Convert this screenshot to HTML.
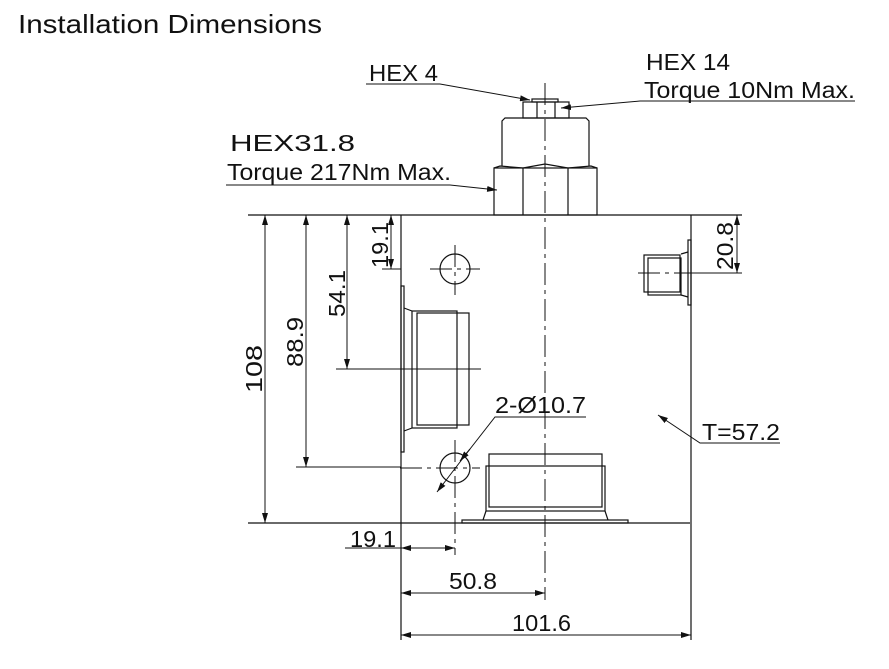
<!DOCTYPE html>
<html><head><style>
html,body{margin:0;padding:0;background:#fff;}
svg{display:block;}
text{font-family:"Liberation Sans",Arial,sans-serif;fill:#111;}
</style></head><body>
<svg width="889" height="669" viewBox="0 0 889 669" xmlns="http://www.w3.org/2000/svg">
<defs>
<marker id="a" viewBox="0 0 10 6" refX="10" refY="3" markerWidth="10" markerHeight="6" orient="auto-start-reverse" markerUnits="userSpaceOnUse"><path d="M0,0 L10,3 L0,6 z" fill="#111"/></marker>
</defs>
<text x="18" y="33" font-size="26" textLength="304" lengthAdjust="spacingAndGlyphs">Installation Dimensions</text>
<g stroke="#111" stroke-width="1.2" fill="none">
<line x1="248" y1="215" x2="742" y2="215"/>
<line x1="248" y1="523" x2="690" y2="523"/>
<line x1="401" y1="215" x2="401" y2="640"/>
<line x1="691" y1="215" x2="691" y2="640"/>
<rect x="494" y="168" width="103" height="47"/>
<line x1="523" y1="168" x2="523" y2="215"/><line x1="568" y1="168" x2="568" y2="215"/>
<path d="M494,168 L500,166 L523,168 L545,164 L568,168 L591,166 L597,168"/>
<path d="M502,166 L502,121 L505,118 L586,118 L589,121 L589,166"/>
<rect x="523" y="102" width="46" height="16"/>
<line x1="537" y1="102" x2="537" y2="118"/><line x1="555" y1="102" x2="555" y2="118"/>
<rect x="532" y="99" width="26" height="3"/>
<rect x="401" y="286" width="3" height="166"/>
<rect x="412" y="311" width="45" height="117"/>
<rect x="417" y="313" width="52" height="112"/>
<line x1="404" y1="308" x2="412" y2="311"/><line x1="404" y1="431" x2="412" y2="428"/>
<rect x="688" y="240" width="3" height="65"/>
<rect x="644" y="255" width="36" height="37"/>
<rect x="648" y="258" width="33" height="37"/>
<line x1="681" y1="254" x2="688" y2="252"/><line x1="681" y1="295" x2="688" y2="297"/>
<rect x="489" y="454" width="113" height="53"/>
<rect x="486" y="466" width="119" height="45"/>
<path d="M486,511 L483,520 M605,511 L608,520"/>
<rect x="462" y="520" width="166" height="3"/>
<circle cx="455" cy="269" r="15"/>
<circle cx="455" cy="468" r="15"/>
</g>
<g stroke="#111" stroke-width="1" stroke-dasharray="22,5,4,5" fill="none">
<line x1="545" y1="83" x2="545" y2="600"/>
<line x1="455" y1="245" x2="455" y2="295"/>
<line x1="430" y1="269" x2="480" y2="269"/>
<line x1="455" y1="440" x2="455" y2="555"/>
<line x1="400" y1="468" x2="480" y2="468"/>
<line x1="638" y1="273" x2="691" y2="273"/>
</g>
<g stroke="#111" stroke-width="1" fill="none">
<line x1="336" y1="369" x2="481" y2="369"/>
<line x1="296" y1="467" x2="401" y2="467"/>
<line x1="382" y1="269" x2="401" y2="269"/>
<line x1="691" y1="273" x2="742" y2="273"/>
<line x1="265" y1="215" x2="265" y2="523" marker-start="url(#a)" marker-end="url(#a)"/>
<line x1="306" y1="215" x2="306" y2="467" marker-start="url(#a)" marker-end="url(#a)"/>
<line x1="347" y1="215" x2="347" y2="369" marker-start="url(#a)" marker-end="url(#a)"/>
<line x1="391" y1="215" x2="391" y2="269" marker-start="url(#a)" marker-end="url(#a)"/>
<line x1="737" y1="215" x2="737" y2="273" marker-start="url(#a)" marker-end="url(#a)"/>
<line x1="345" y1="548" x2="401" y2="548"/>
<line x1="401" y1="548" x2="455" y2="548" marker-start="url(#a)" marker-end="url(#a)"/>
<line x1="401" y1="593" x2="545" y2="593" marker-start="url(#a)" marker-end="url(#a)"/>
<line x1="401" y1="635" x2="691" y2="635" marker-start="url(#a)" marker-end="url(#a)"/>
<polyline points="366,84 440,84 530,100" marker-end="url(#a)"/>
<polyline points="855,101 640,101 561,108" marker-end="url(#a)"/>
<polyline points="226,185 450,185 497,190" marker-end="url(#a)"/>
<polyline points="586,417 495,417 470,449"/>
<line x1="470" y1="449" x2="437" y2="492" marker-end="url(#a)"/>
<line x1="470" y1="449" x2="460" y2="461" marker-end="url(#a)"/>
<polyline points="780,443 700,443 658,415" marker-end="url(#a)"/>
</g>
<g font-size="23">
<text x="369" y="81" textLength="69" lengthAdjust="spacingAndGlyphs">HEX 4</text>
<text x="646" y="70" textLength="84" lengthAdjust="spacingAndGlyphs">HEX 14</text>
<text x="644" y="98" textLength="211" lengthAdjust="spacingAndGlyphs">Torque 10Nm Max.</text>
<text x="230" y="151" textLength="125" lengthAdjust="spacingAndGlyphs">HEX31.8</text>
<text x="227" y="180" textLength="224" lengthAdjust="spacingAndGlyphs">Torque 217Nm Max.</text>
<text x="495" y="413" textLength="91" lengthAdjust="spacingAndGlyphs">2-Ø10.7</text>
<text x="702" y="440" textLength="78" lengthAdjust="spacingAndGlyphs">T=57.2</text>
<text x="350" y="547" textLength="46" lengthAdjust="spacingAndGlyphs">19.1</text>
<text x="449" y="589" textLength="48" lengthAdjust="spacingAndGlyphs">50.8</text>
<text x="512" y="631" textLength="59" lengthAdjust="spacingAndGlyphs">101.6</text>
<text transform="translate(262,393) rotate(-90)" textLength="48" lengthAdjust="spacingAndGlyphs">108</text>
<text transform="translate(303,367) rotate(-90)" textLength="50" lengthAdjust="spacingAndGlyphs">88.9</text>
<text transform="translate(345,317) rotate(-90)" textLength="47" lengthAdjust="spacingAndGlyphs">54.1</text>
<text transform="translate(388,268) rotate(-90)" textLength="46" lengthAdjust="spacingAndGlyphs">19.1</text>
<text transform="translate(733,270) rotate(-90)" textLength="48" lengthAdjust="spacingAndGlyphs">20.8</text>
</g>
</svg>
</body></html>
